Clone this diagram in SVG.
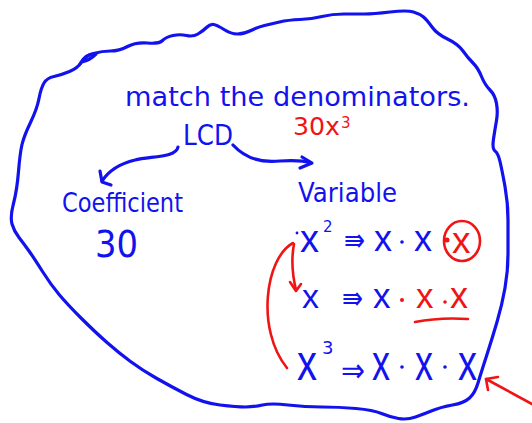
<svg xmlns="http://www.w3.org/2000/svg" width="532" height="423" viewBox="0 0 532 423">
<style>
.b{fill:#1212ee;font-family:"DejaVu Sans",sans-serif}
.r{fill:#f01414;font-family:"DejaVu Sans",sans-serif}
.bx{fill:#1212ee;font-family:"Liberation Sans",sans-serif}
.rx{fill:#f01414;font-family:"Liberation Sans",sans-serif}
.bs{fill:none;stroke:#1212ee;stroke-width:3.2;stroke-linecap:round;stroke-linejoin:round}
.rs{fill:none;stroke:#f01414;stroke-width:2.6;stroke-linecap:round;stroke-linejoin:round}
</style>
<rect width="532" height="423" fill="#ffffff"/>
<g id="blob">
<path class="bs" d="M81.5 62 Q85 56 93.5 53.5 Q102 51 110.5 51 Q119 51 127.5 46.5 Q136 42 147.5 43 Q159 44 162.5 40.5 Q166 37 173 35.5 Q180 34 186.5 35.5 Q193 37 198 34 Q203 31 206.5 27.5 Q210 24 213.5 24.5 Q217 25 224 29.5 Q231 34 237.5 34 Q244 34 251 30.5 Q258 27 264.5 25.5 Q271 24 279.5 22 Q288 20 300 19.5 Q312 19 322 16.5 Q332 14 344 14 Q356 14 364.5 14 Q373 14 390 12 Q407 10 413.5 12 Q420 14 423.5 17 Q427 20 432 27 Q437 34 447.5 39 Q458 44 463 51 Q468 58 473 63 Q478 68 481.5 76.5 Q485 85 490 90 Q495 95 496.5 103.5 Q498 112 496.5 120.5 Q495 129 493.5 139 Q492 149 495 151 Q498 153 500 161.5 Q502 170 505 186.5 Q508 203 508 220 Q508 237 508 254 Q508 271 505 288 Q502 305 497 322 Q492 339 486.5 356 Q481 373 478 383 Q475 393 469.5 398 Q464 403 452.5 405 Q441 407 432.5 410.5 Q424 414 415.5 417 Q407 420 398.5 418.5 Q390 417 381.5 413.5 Q373 410 356 408.5 Q339 407 322 407 Q305 407 288 405 Q271 403 262.5 405 Q254 407 245.5 407 Q237 407 220 405 Q203 403 186.5 394.5 Q170 386 156 378 Q142 370 130.5 361.5 Q119 353 107 342.5 Q95 332 81.5 318.5 Q68 305 59.5 295 Q51 285 42.5 271.5 Q34 258 29 251 Q24 244 19 237.5 Q14 231 12 224 Q10 217 13.5 203.5 Q17 190 18.5 171.5 Q20 153 22 144.5 Q24 136 30.5 122.5 Q37 109 39 98.5 Q41 88 44 83 Q47 78 54 76.5 Q61 75 69.5 71.5 Q78 68 81.5 62 Z"/>
<path class="bs" d="M80 64 Q86 53 96 54 Q90 60 82 62"/>
</g>
<g id="title"><text class="b" x="125" y="106" font-size="27" textLength="345" lengthAdjust="spacingAndGlyphs">match the denominators.</text></g>
<g id="lcd"><text class="b" x="183" y="145" font-size="28" textLength="50" lengthAdjust="spacingAndGlyphs">LCD</text></g>
<g id="lcd-value"><text class="r" x="293" y="135" font-size="24" textLength="47" lengthAdjust="spacingAndGlyphs">30x</text><text class="r" x="341" y="128" font-size="15">3</text></g>
<g id="coefficient"><text class="b" x="62" y="212" font-size="27" textLength="121" lengthAdjust="spacingAndGlyphs">Coefficient</text></g>
<g id="coeff-value"><text class="b" x="95" y="257" font-size="38" textLength="43" lengthAdjust="spacingAndGlyphs">30</text></g>
<g id="variable"><text class="b" x="298" y="202" font-size="27" textLength="99" lengthAdjust="spacingAndGlyphs">Variable</text></g>
<g id="row1">
<circle cx="297" cy="233" r="1.4" fill="#1212ee"/>
<text class="bx" x="300" y="252" font-size="38">x</text>
<text class="b" x="323" y="232" font-size="15">2</text>
<text class="b" x="344" y="251" font-size="32" textLength="21" lengthAdjust="spacingAndGlyphs">⇛</text>
<text class="bx" x="374" y="251" font-size="36">x</text>
<circle cx="402" cy="242" r="1.8" fill="#1212ee"/>
<text class="bx" x="414" y="251" font-size="36">x</text>
<ellipse class="rs" cx="462" cy="241" rx="18" ry="20"/>
<circle cx="447" cy="240" r="2.5" fill="#f01414"/>
<text class="rx" x="452" y="253" font-size="37">x</text>
</g>
<g id="row2">
<text class="bx" x="302" y="308" font-size="34">x</text>
<text class="b" x="342" y="309" font-size="32" textLength="21" lengthAdjust="spacingAndGlyphs">⇛</text>
<text class="bx" x="373" y="308" font-size="35">x</text>
<circle cx="402" cy="300" r="2" fill="#f01414"/>
<text class="rx" x="416" y="308" font-size="35">x</text>
<circle cx="445" cy="302" r="1.8" fill="#f01414"/>
<text class="rx" x="450" y="308" font-size="36">x</text>
<path class="rs" d="M415 322 Q440 317 468 319"/>
</g>
<g id="row3">
<text class="bx" x="297" y="380" font-size="52" textLength="20" lengthAdjust="spacingAndGlyphs">x</text>
<text class="b" x="322" y="354" font-size="18">3</text>
<text class="b" x="341" y="382" font-size="34" textLength="24" lengthAdjust="spacingAndGlyphs">⇒</text>
<text class="bx" x="372" y="380" font-size="50" textLength="18" lengthAdjust="spacingAndGlyphs">x</text>
<circle cx="402" cy="367" r="1.8" fill="#1212ee"/>
<text class="bx" x="415" y="380" font-size="50" textLength="18" lengthAdjust="spacingAndGlyphs">x</text>
<circle cx="445" cy="367" r="1.8" fill="#1212ee"/>
<text class="bx" x="458" y="380" font-size="50" textLength="19" lengthAdjust="spacingAndGlyphs">x</text>
</g>
<g id="connectors">
<path class="bs" d="M178 147 C176 158 150 156 135 160 C118 164 108 172 102 181"/>
<path class="bs" d="M100 171 L102 182 L111 185"/>
<path class="bs" d="M233 145 C245 158 262 163 280 161 C295 160 305 161 311 163"/>
<path class="bs" d="M302 157 L312 163 L300 168"/>
<path class="rs" d="M294 244 Q290 265 296 290"/>
<path class="rs" d="M290 282 L296 291 L301 284"/>
<path class="rs" d="M293 243 C265 258 256 330 287 368"/>
<path class="rs" d="M532 404 L486 379"/>
<path class="rs" d="M498 377 L486 379 L488 390"/>
</g>
</svg>
